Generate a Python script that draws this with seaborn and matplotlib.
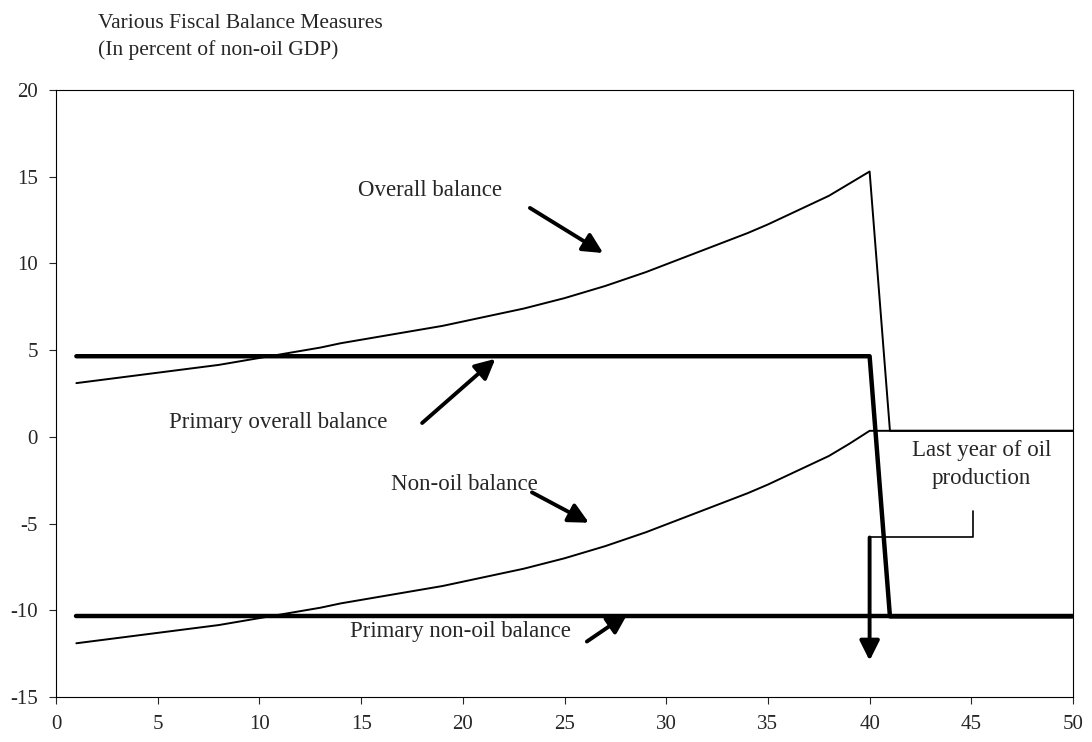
import numpy as np
import matplotlib
matplotlib.use("Agg")
import matplotlib.pyplot as plt
import seaborn as sns
import pandas as pd

# years of the projection
years = list(range(1, 51))

# values (percent of non-oil GDP)
overall_balance = [3.1, 3.25, 3.4, 3.55, 3.7, 3.85, 4.0, 4.15, 4.35, 4.55,
                   4.75, 4.95, 5.15, 5.4, 5.6, 5.8, 6.0, 6.2, 6.4, 6.65,
                   6.9, 7.15, 7.4, 7.7, 8.0, 8.35, 8.7, 9.1, 9.5, 9.95,
                   10.4, 10.85, 11.3, 11.75, 12.25, 12.8, 13.35, 13.9, 14.6, 15.3,
                   0.35, 0.35, 0.35, 0.35, 0.35, 0.35, 0.35, 0.35, 0.35, 0.35]
non_oil_balance = [-11.9, -11.75, -11.6, -11.45, -11.3, -11.15, -11.0, -10.85, -10.65, -10.45,
                   -10.25, -10.05, -9.85, -9.6, -9.4, -9.2, -9.0, -8.8, -8.6, -8.35,
                   -8.1, -7.85, -7.6, -7.3, -7.0, -6.65, -6.3, -5.9, -5.5, -5.05,
                   -4.6, -4.15, -3.7, -3.25, -2.75, -2.2, -1.65, -1.1, -0.4, 0.35,
                   0.35, 0.35, 0.35, 0.35, 0.35, 0.35, 0.35, 0.35, 0.35, 0.35]
primary_overall = [4.65] * 40 + [-10.35] * 10
primary_non_oil = [-10.35] * 50

df = pd.DataFrame({
    "year": years,
    "Overall balance": overall_balance,
    "Non-oil balance": non_oil_balance,
    "Primary overall balance": primary_overall,
    "Primary non-oil balance": primary_non_oil,
})
long_df = df.melt(id_vars="year", var_name="measure", value_name="value")

sns.set_style("white")
plt.rcParams["font.family"] = ["Liberation Serif", "DejaVu Serif"]
plt.rcParams["axes.unicode_minus"] = False

fig = plt.figure(figsize=(10.92, 7.42), dpi=100)
ax = fig.add_axes([0.0513, 0.0606, 0.9313, 0.8181])

widths = {"Overall balance": 1.4, "Non-oil balance": 1.4,
          "Primary overall balance": 3.2, "Primary non-oil balance": 3.2}
for name, lw in widths.items():
    sns.lineplot(data=long_df[long_df["measure"] == name], x="year", y="value",
                 color="black", linewidth=lw, ax=ax, legend=False)

ax.set_xlim(0, 50)
ax.set_ylim(-15, 20)
ax.set_xticks(range(0, 51, 5))
ax.set_yticks(range(-15, 21, 5))
ax.set_xlabel("")
ax.set_ylabel("")
ax.tick_params(axis="both", labelsize=15, length=5, width=0.8, direction="out",
               bottom=True, left=True, pad=8)
for s in ax.spines.values():
    s.set_color("black")
    s.set_linewidth(0.8)
    s.set_visible(True)

# title
fig.text(0.09, 0.968, "Various Fiscal Balance Measures", fontsize=15.5, va="center")
fig.text(0.09, 0.932, "(In percent of non-oil GDP)", fontsize=15.5, va="center")

arrow = dict(arrowstyle="-|>", color="black", lw=2.8, mutation_scale=30,
             shrinkA=0, shrinkB=0)

ax.text(18.4, 14.2, "Overall balance", fontsize=16.5, ha="center", va="center")
ax.annotate("", xy=(26.9, 10.6), xytext=(23.3, 13.2), arrowprops=arrow)

ax.text(10.9, 0.85, "Primary overall balance", fontsize=16.5, ha="center", va="center")
ax.annotate("", xy=(21.6, 4.5), xytext=(18.0, 0.8), arrowprops=arrow)

ax.text(20.1, -2.75, "Non-oil balance", fontsize=16.5, ha="center", va="center")
ax.annotate("", xy=(26.2, -4.95), xytext=(23.4, -3.2), arrowprops=arrow)

ax.text(19.9, -11.25, "Primary non-oil balance", fontsize=16.5, ha="center", va="center")
ax.annotate("", xy=(28.1, -10.2), xytext=(26.1, -11.8), arrowprops=arrow)

# last year of oil production callout
ax.text(45.5, -1.6, "Last year of oil\nproduction", fontsize=16.5, ha="center",
        va="center", linespacing=1.4)
ax.plot([45.1, 45.1, 40.0], [-4.3, -5.8, -5.8], color="black", lw=1.2)
ax.annotate("", xy=(40.0, -12.9), xytext=(40.0, -5.8), arrowprops=arrow)

fig.savefig("out.png", dpi=100)
